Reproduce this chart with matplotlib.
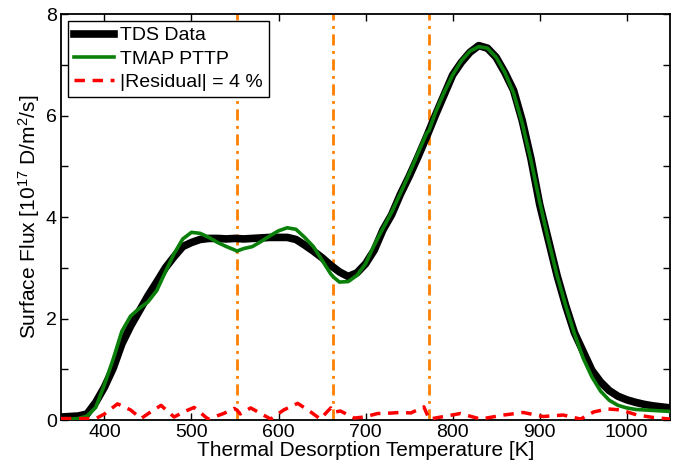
import matplotlib
matplotlib.use("Agg")
import matplotlib.pyplot as plt

plt.rcParams['font.family'] = ['Liberation Sans', 'DejaVu Sans']
plt.rcParams['mathtext.fontset'] = 'custom'
plt.rcParams['mathtext.rm'] = 'Liberation Sans'
plt.rcParams['mathtext.it'] = 'Liberation Sans:italic'
plt.rcParams['mathtext.bf'] = 'Liberation Sans:bold'

# TDS data (black)
tds_T = [350, 360, 370, 380, 390, 400, 410, 420, 430, 440, 450, 460, 470, 480, 490,
         500, 510, 520, 530, 540, 550, 560, 570, 580, 590, 600, 610, 620, 630, 640,
         650, 660, 670, 680, 690, 700, 710, 720, 730, 740, 750, 760, 770, 780, 790,
         800, 810, 820, 830, 840, 850, 860, 870, 880, 890, 900, 910, 920, 930, 940,
         950, 960, 970, 980, 990, 1000, 1010, 1020, 1030, 1040, 1050]
tds_flux = [0.06, 0.07, 0.08, 0.12, 0.35, 0.65, 1.02, 1.5, 1.85, 2.15, 2.45, 2.72, 3.0, 3.22, 3.42,
            3.5, 3.56, 3.58, 3.58, 3.57, 3.58, 3.57, 3.58, 3.59, 3.6, 3.6, 3.6, 3.56, 3.45, 3.33,
            3.2, 3.05, 2.92, 2.83, 2.9, 3.08, 3.35, 3.75, 4.05, 4.45, 4.8, 5.18, 5.58, 6.0, 6.4,
            6.8, 7.05, 7.25, 7.38, 7.33, 7.15, 6.85, 6.5, 5.9, 5.15, 4.25, 3.55, 2.85, 2.25, 1.72,
            1.35, 0.98, 0.75, 0.58, 0.47, 0.4, 0.35, 0.31, 0.28, 0.26, 0.24]

# TMAP PTTP fit (green)
fit_T = [350, 360, 370, 380, 390, 400, 410, 420, 430, 440, 450, 460, 470, 480, 490,
         500, 510, 520, 530, 540, 550, 552, 560, 570, 580, 590, 600, 610, 620, 630,
         640, 650, 660, 663, 670, 680, 690, 700, 710, 720, 730, 740, 750, 760, 770,
         773, 780, 790, 800, 810, 820, 830, 840, 850, 860, 870, 880, 890, 900, 910,
         920, 930, 940, 950, 960, 970, 980, 990, 1000, 1010, 1020, 1030, 1040, 1050]
fit_flux = [0.02, 0.02, 0.03, 0.08, 0.25, 0.7, 1.2, 1.75, 2.05, 2.2, 2.33, 2.55, 2.92, 3.28, 3.57,
            3.7, 3.68, 3.6, 3.5, 3.42, 3.35, 3.33, 3.38, 3.42, 3.52, 3.63, 3.73, 3.79, 3.76, 3.6,
            3.42, 3.15, 2.88, 2.82, 2.72, 2.73, 2.85, 3.08, 3.45, 3.78, 4.1, 4.47, 4.85, 5.25, 5.65,
            5.71, 6.05, 6.45, 6.8, 7.08, 7.27, 7.36, 7.33, 7.15, 6.85, 6.45, 5.85, 5.12, 4.3, 3.55,
            2.85, 2.25, 1.7, 1.22, 0.85, 0.57, 0.39, 0.29, 0.24, 0.21, 0.2, 0.19, 0.18, 0.17]

# |Residual| (red dashed)
res_T = [350, 370, 390, 400, 415, 430, 442, 453, 465, 480, 491, 503, 519, 537, 549, 552, 556,
         568, 591, 606, 622, 637, 648, 660, 663, 671, 687, 698, 714, 721, 740, 752, 767, 773,
         790, 809, 832, 859, 881, 904, 927, 947, 962, 978, 993, 1012, 1031, 1050]
res_val = [0.03, 0.03, 0.03, 0.12, 0.32, 0.2, 0.03, 0.16, 0.29, 0.06, 0.16, 0.25, 0.02, 0.13, 0.23, 0.2, 0.12,
           0.24, 0.02, 0.2, 0.33, 0.16, 0.02, 0.24, 0.15, 0.18, 0.04, 0.06, 0.13, 0.13, 0.15, 0.14, 0.26, 0.02,
           0.07, 0.13, 0.02, 0.1, 0.15, 0.07, 0.1, 0.02, 0.16, 0.22, 0.2, 0.1, 0.05, 0.02]

# Boundaries (orange vertical lines)
boundaries = [552, 663, 773]

fig = plt.figure(figsize=(6.77, 4.72), dpi=100)
ax = fig.add_axes([0.090, 0.110, 0.900, 0.860])

for b in boundaries:
    ax.axvline(b, color='#ff8000', lw=2.0, dashes=(4, 2, 1, 2), zorder=1)

ax.plot(tds_T, tds_flux, color='black', lw=5.5, label='TDS Data', zorder=2)
ax.plot(fit_T, fit_flux, color='#0a800a', lw=2.6, label='TMAP PTTP', zorder=3)
ax.plot(res_T, res_val, color='#ff0000', lw=2.5, dashes=(3, 2.2), label='|Residual| = 4 %', zorder=4)

ax.set_xlim(350, 1050)
ax.set_ylim(0, 8)
ax.set_xticks([400, 500, 600, 700, 800, 900, 1000])
ax.set_yticks([0, 2, 4, 6, 8])
ax.set_yticks([1, 3, 5, 7], minor=True)
ax.tick_params(which='both', direction='in', top=True, right=True, labelsize=14, width=1)
ax.tick_params(which='major', length=5, pad=3)
ax.tick_params(which='minor', length=5)
for s in ax.spines.values():
    s.set_linewidth(1.3)

ax.set_xlabel('Thermal Desorption Temperature [K]', fontsize=15, labelpad=0)
ax.set_ylabel('Surface Flux [10$^{17}$ D/m$^2$/s]', fontsize=15, labelpad=3)

leg = ax.legend(loc='upper left', fontsize=14, frameon=True, fancybox=False,
                edgecolor='black', framealpha=1, handlelength=2.1, handletextpad=0.3,
                labelspacing=0.3, borderaxespad=0.35, borderpad=0.3)
leg.get_frame().set_linewidth(1.0)
leg.set_zorder(10)

fig.savefig('out.png', dpi=100)
